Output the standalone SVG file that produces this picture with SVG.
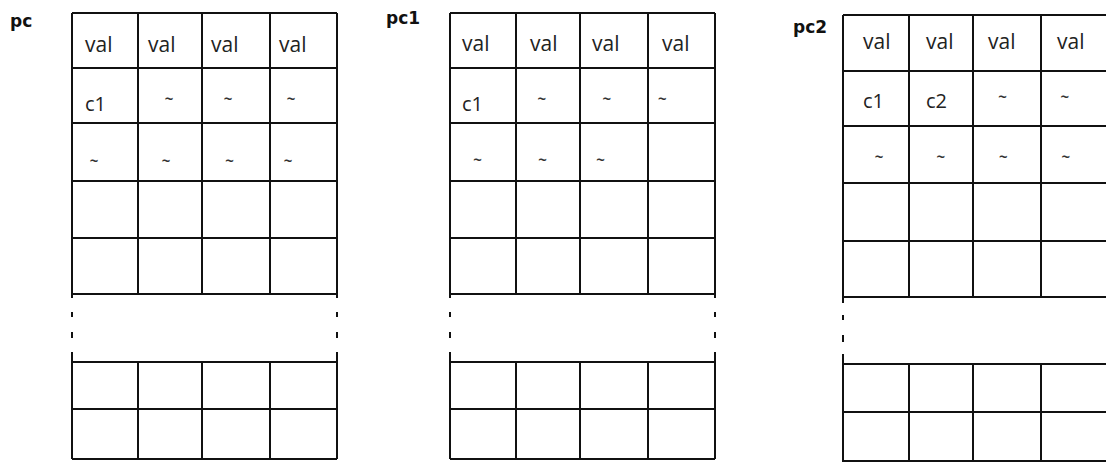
<svg xmlns="http://www.w3.org/2000/svg" width="1106" height="462" viewBox="0 0 1106 462">
<style>
.bg{fill:#ffffff}
.grid{fill:none;stroke:#111;stroke-width:2;stroke-linecap:butt}
.dash{fill:none;stroke:#111;stroke-width:2;stroke-dasharray:4 14 5 15 6 14 10}
.dash3{fill:none;stroke:#111;stroke-width:2;stroke-dasharray:6 12 5 15 7 12 10}
.lbl{font-family:"DejaVu Sans",sans-serif;font-weight:bold;font-size:17px;fill:#111}
.val{font-family:"Open Sans",sans-serif;font-size:21px;fill:#222}
.c{font-family:"Open Sans",sans-serif;font-size:20px;fill:#222}
.t{font-family:"Open Sans",sans-serif;font-size:15px;font-weight:bold;fill:#333;text-anchor:middle}
</style>
<rect class="bg" x="0" y="0" width="1106" height="462"/>
<g id="connectors"/>

<g id="pc">
  <text class="lbl" x="10" y="27">pc</text>
  <path class="grid" d="M72 13H337M72 68H337M72 123H337M72 181H337M72 238H337M72 294H337M72 362H337M72 409H337M72 459H337
    M72 13V294M138 13V294M202 13V294M270 13V294M337 13V294
    M72 362V459M138 362V459M202 362V459M270 362V459M337 362V459"/>
  <path class="dash" d="M72 294V362M337 294V362"/>
  <text class="val" x="85" y="52">val</text>
  <text class="val" x="148" y="52">val</text>
  <text class="val" x="211" y="52">val</text>
  <text class="val" x="279" y="52">val</text>
  <text class="c" x="85" y="111">c1</text>
  <text class="t" x="169" y="104.3">~</text>
  <text class="t" x="228" y="104.3">~</text>
  <text class="t" x="291" y="104.3">~</text>
  <text class="t" x="94" y="166.3">~</text>
  <text class="t" x="166" y="166.3">~</text>
  <text class="t" x="229.5" y="166.3">~</text>
  <text class="t" x="288" y="166.3">~</text>
</g>

<g id="pc1">
  <text class="lbl" x="386" y="24">pc1</text>
  <path class="grid" d="M450 13H715M450 68H715M450 123H715M450 181H715M450 238H715M450 294H715M450 362H715M450 409H715M450 459H715
    M450 13V294M516 13V294M580 13V294M648 13V294M715 13V294
    M450 362V459M516 362V459M580 362V459M648 362V459M715 362V459"/>
  <path class="dash" d="M450 294V362M715 294V362"/>
  <text class="val" x="462" y="51">val</text>
  <text class="val" x="530" y="51">val</text>
  <text class="val" x="592" y="51">val</text>
  <text class="val" x="662" y="51">val</text>
  <text class="c" x="462" y="111">c1</text>
  <text class="t" x="541.7" y="103.6">~</text>
  <text class="t" x="606.7" y="103.6">~</text>
  <text class="t" x="662.3" y="103.6">~</text>
  <text class="t" x="477.5" y="164.6">~</text>
  <text class="t" x="542.5" y="164.6">~</text>
  <text class="t" x="600.5" y="164.6">~</text>
</g>

<g id="pc2">
  <text class="lbl" x="793" y="33">pc2</text>
  <path class="grid" d="M843 15H1110M843 71H1110M843 126H1110M843 183H1110M843 241H1110M843 297H1110M843 364H1110M843 412H1110M843 461H1110
    M843 15V297M909 15V297M973 15V297M1041 15V297
    M843 364V462M909 364V462M973 364V462M1041 364V462"/>
  <path class="dash3" d="M843 297V364"/>
  <text class="val" x="863" y="49">val</text>
  <text class="val" x="926" y="49">val</text>
  <text class="val" x="988" y="49">val</text>
  <text class="val" x="1057" y="49">val</text>
  <text class="c" x="863" y="108">c1</text>
  <text class="c" x="926" y="108">c2</text>
  <text class="t" x="1002.5" y="102">~</text>
  <text class="t" x="1064.8" y="102">~</text>
  <text class="t" x="879" y="162">~</text>
  <text class="t" x="940.8" y="162">~</text>
  <text class="t" x="1003.2" y="162">~</text>
  <text class="t" x="1065.8" y="162">~</text>
</g>
</svg>
